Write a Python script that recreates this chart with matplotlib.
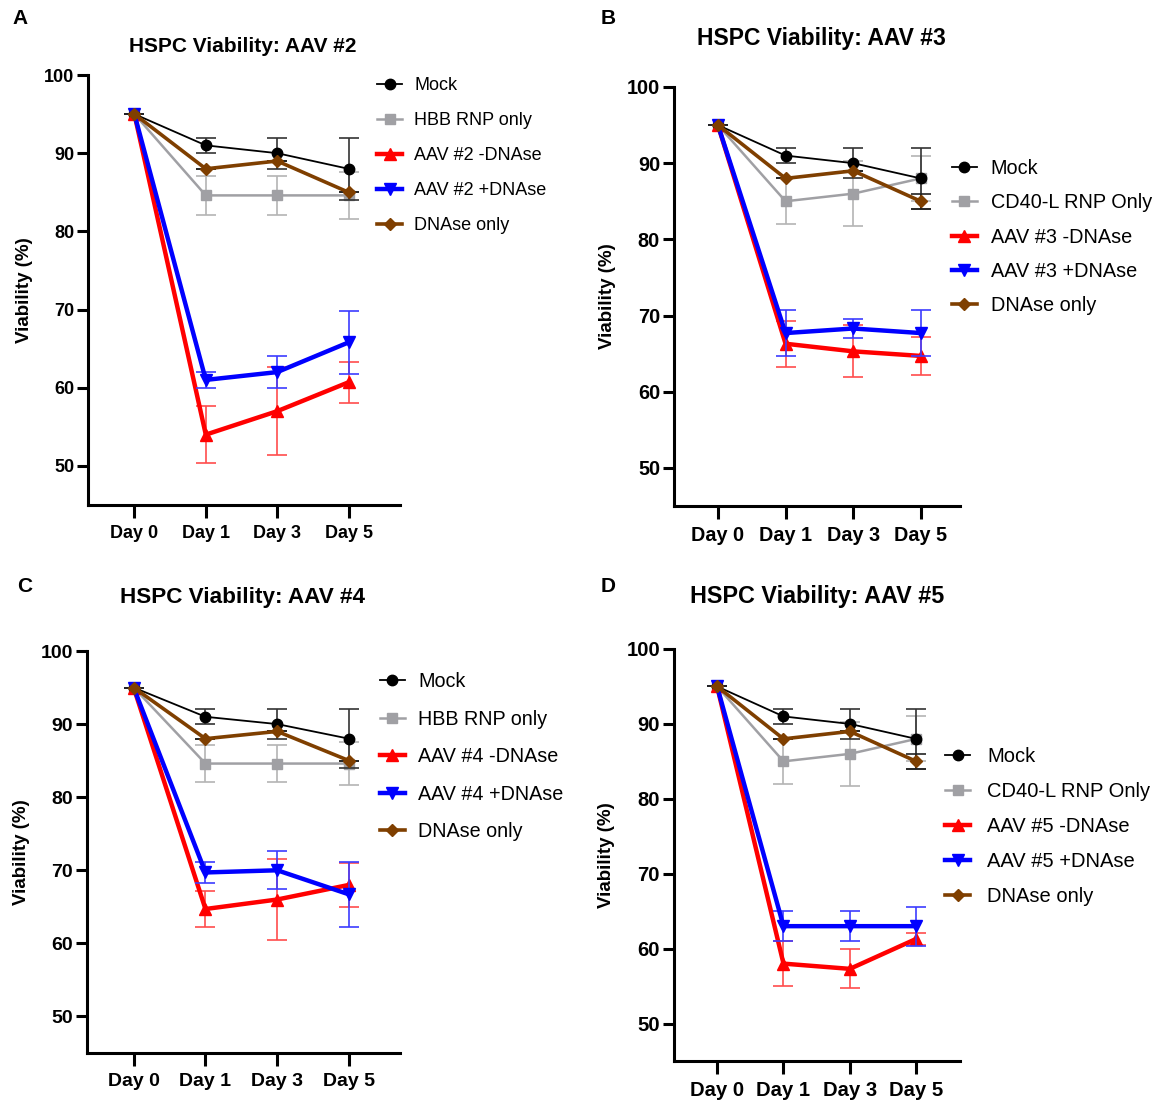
import numpy as np
import matplotlib
matplotlib.use('Agg')
import matplotlib.pyplot as plt

plt.rcParams['font.family'] = ['Liberation Sans', 'DejaVu Sans']

# data
days = ['Day 0', 'Day 1', 'Day 3', 'Day 5']
panel_letters = ['A', 'B', 'C', 'D']
aav_names = ['AAV #2', 'AAV #3', 'AAV #4', 'AAV #5']
rnp_names = ['HBB RNP only', 'CD40-L RNP Only', 'HBB RNP only', 'CD40-L RNP Only']

mock_mean = [95, 91, 90, 88]
mock_err = [0, 1, 2, 4]

rnp_mean = [[95, 84.6, 84.6, 84.6],
            [95, 85, 86, 88],
            [95, 84.6, 84.6, 84.6],
            [95, 85, 86, 88]]
rnp_err = [[0, 2.5, 2.5, 3],
           [0, 3, 4.3, 3],
           [0, 2.5, 2.5, 3],
           [0, 3, 4.3, 3]]

minus_mean = [[95, 54, 57, 60.7],
              [95, 66.3, 65.3, 64.7],
              [95, 64.7, 66, 68],
              [95, 58, 57.3, 61.3]]
minus_err = [[0, 3.6, 5.6, 2.6],
             [0, 3, 3.4, 2.5],
             [0, 2.5, 5.6, 3],
             [0, 3, 2.6, 0.8]]

plus_mean = [[95, 61, 62, 65.8],
             [95, 67.7, 68.3, 67.7],
             [95, 69.7, 70, 66.7],
             [95, 63, 63, 63]]
plus_err = [[0, 1, 2, 4],
            [0, 3, 1.2, 3],
            [0, 1.5, 2.6, 4.5],
            [0, 2, 2, 2.6]]

dnase_mean = [95, 88, 89, 85]
dnase_err = [[0, 0, 0, 0],
             [0, 0, 0, 1],
             [0, 0, 0, 0],
             [0, 0, 0, 1]]

# layout (pixels of a 1158x1100 canvas)
W, H = 1158, 1100
ax_box = [(88, 400, 75, 505), (674, 960, 87, 506),
          (87, 400, 651, 1053), (674, 960, 649, 1061)]
xmax = [3.72, 3.58, 3.71, 3.66]
title_pos = [(243, 47), (821, 38), (242, 597), (817, 596)]
letter_pos = [(20, 18), (608, 18), (25, 587), (608, 587)]
font_scale = [1.0, 1.1, 1.08, 1.12]
legend_pos = [(377, 77), (952, 159), (380, 672), (945, 747)]
legend_fs = [13, 14.3, 14.2, 14.5]
legend_hl = [1.4, 1.25, 1.25, 1.25]
legend_pad = [0.65, 0.7, 0.7, 0.85]
legend_gap = [1.0, 0.77, 0.94, 0.8]

fig = plt.figure(figsize=(W / 100, H / 100), dpi=100)

for i in range(4):
    l, r, t, b = ax_box[i]
    s = font_scale[i]
    ax = fig.add_axes([l / W, 1 - b / H, (r - l) / W, (b - t) / H])
    x = np.arange(len(days))

    series = [
        (rnp_mean[i], rnp_err[i], '#a0a0a4', '#b4b4b4', 's', 7.5, 1.8, rnp_names[i]),
        (mock_mean, mock_err, 'black', '#333333', 'o', 7.5, 1.3, 'Mock'),
        (minus_mean[i], minus_err[i], '#ff0000', '#ff4d4d', '^', 8, 3.2, aav_names[i] + ' -DNAse'),
        (plus_mean[i], plus_err[i], '#0000ff', '#3c3cff', 'v', 8, 3.2, aav_names[i] + ' +DNAse'),
        (dnase_mean, dnase_err[i], '#7f3f00', '#222222', 'D', 6, 2.6, 'DNAse only'),
    ]
    handles = {}
    for mean, err, col, ecol, mk, ms, lw, lab in series:
        ax.errorbar(x, mean, yerr=err, fmt='none', ecolor=ecol, elinewidth=1.2,
                    capsize=7, capthick=1.2)
        ln, = ax.plot(x, mean, color=col, marker=mk, markersize=ms, lw=lw, label=lab)
        handles[lab] = ln

    order = ['Mock', rnp_names[i], aav_names[i] + ' -DNAse',
             aav_names[i] + ' +DNAse', 'DNAse only']
    lx, ly = legend_pos[i]
    ax.legend([handles[k] for k in order], order, loc='upper left',
              bbox_to_anchor=(lx / W, 1 - ly / H), bbox_transform=fig.transFigure,
              frameon=False, borderpad=0, borderaxespad=0, fontsize=legend_fs[i],
              handlelength=legend_hl[i], handletextpad=legend_pad[i],
              labelspacing=legend_gap[i])

    ax.set_xlim(-0.65, xmax[i])
    ax.set_ylim(45, 100)
    ax.set_yticks([50, 60, 70, 80, 90, 100])
    ax.set_xticks(x)
    ax.set_xticklabels(days)
    for sp in ['top', 'right']:
        ax.spines[sp].set_visible(False)
    for sp in ['left', 'bottom']:
        ax.spines[sp].set_linewidth(2.2)
    ax.tick_params(direction='out', width=2.2, labelsize=13 * s)
    ax.tick_params(axis='x', length=9.5, pad=5)
    ax.tick_params(axis='y', length=8, pad=2)
    for lab in ax.get_xticklabels() + ax.get_yticklabels():
        lab.set_fontweight('bold')
    ax.set_ylabel('Viability (%)', fontsize=13.5, fontweight='bold', labelpad=8)

    tx, ty = title_pos[i]
    fig.text(tx / W, 1 - ty / H, 'HSPC Viability: ' + aav_names[i], ha='center',
             va='center', fontsize=15 * s, fontweight='bold')
    px, py = letter_pos[i]
    fig.text(px / W, 1 - py / H, panel_letters[i], ha='center', va='center',
             fontsize=15, fontweight='bold')

fig.savefig('out.png', dpi=100)
